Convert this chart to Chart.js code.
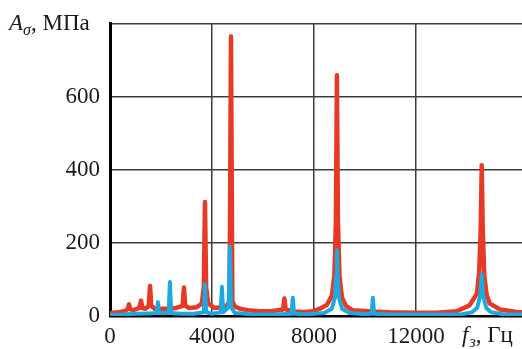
<!DOCTYPE html>
<html>
<head>
<meta charset="utf-8">
<script src="https://cdn.jsdelivr.net/npm/chart.js@4.4.1/dist/chart.umd.min.js"></script>
<style>
  html, body { margin: 0; padding: 0; background: #fff; }
  #wrap { width: 522px; height: 349px; }
</style>
</head>
<body>
<div id="wrap"><canvas id="spectrum"></canvas></div>
<script>
// frequency, Hz / amplitude, MPa
const redFreq = [0, 300, 600, 700, 745, 790, 900, 1000, 1150, 1215, 1270, 1400, 1520, 1570, 1620, 1750,
  2000, 2300, 2600, 2850, 2900, 2950, 3100, 3400, 3600, 3680, 3725, 3770, 3850, 4100, 4400, 4600, 4690,
  4745, 4800, 4900, 5100, 5400, 5800, 6300, 6790, 6840, 6890, 7200, 7600, 7960, 8230, 8500, 8700, 8800,
  8860, 8900, 8940, 9000, 9100, 9250, 9520, 10300, 11000, 12000, 12800, 13600, 14100, 14390, 14480,
  14540, 14580, 14620, 14680, 14780, 14900, 15300, 15950, 16160];
const redAmp = [8, 10, 14, 20, 32, 18, 16, 18, 22, 42, 22, 20, 28, 82, 28, 20,
  20, 20, 22, 28, 78, 28, 22, 24, 34, 80, 312, 80, 34, 22, 24, 30, 40,
  765, 40, 26, 20, 16, 14, 13, 18, 48, 18, 12, 11, 13, 20, 30, 55, 110,
  260, 659, 260, 110, 50, 28, 16, 12, 10, 9, 9, 13, 29, 61, 120,
  240, 413, 240, 110, 55, 34, 18, 11, 10];

const blueFreq = [0, 500, 1000, 1500, 1840, 1880, 1920, 2300, 2350, 2400, 2800, 3300, 3680, 3725, 3770,
  4000, 4340, 4390, 4440, 4650, 4700, 4750, 4900, 5500, 6500, 7120, 7170, 7220, 7800, 8400, 8700, 8820,
  8870, 8900, 8930, 8980, 9100, 9400, 10000, 10260, 10310, 10360, 11000, 13000, 13800, 14200, 14400,
  14520, 14580, 14640, 14760, 14950, 15400, 16160];
const blueAmp = [3, 4, 6, 7, 8, 38, 8, 8, 93, 8, 6, 6, 10, 87, 10,
  6, 10, 80, 10, 24, 190, 24, 8, 5, 4, 6, 50, 6, 5, 8, 20, 50,
  110, 180, 110, 50, 20, 8, 5, 6, 50, 6, 4, 4, 5, 10, 22,
  55, 114, 55, 22, 10, 5, 4];

const xTicks = [0, 4000, 8000, 12000];
const yTicks = [0, 200, 400, 600];

const toPoints = (xs, ys) => xs.map((x, i) => ({ x: x, y: ys[i] }));

const serif = 'Liberation Serif';

const axisTitles = {
  id: 'axisTitles',
  afterDraw(chart) {
    const ctx = chart.ctx;
    ctx.save();
    ctx.fillStyle = '#1a1a1a';
    ctx.textBaseline = 'alphabetic';
    ctx.textAlign = 'left';

    // A_σ, МПа
    let x = 9;
    ctx.font = 'italic 23px ' + serif;
    ctx.fillText('A', x, 30);
    x += ctx.measureText('A').width;
    ctx.font = 'italic 16px ' + serif;
    ctx.fillText('σ', x, 35);
    x += ctx.measureText('σ').width;
    ctx.font = '23px ' + serif;
    ctx.fillText(', МПа', x, 30);

    // f_з, Гц
    x = 462;
    ctx.font = 'italic 23px ' + serif;
    ctx.fillText('f', x, 342);
    x += ctx.measureText('f').width + 1;
    ctx.font = 'italic 16px ' + serif;
    ctx.fillText('з', x, 347);
    x += ctx.measureText('з').width;
    ctx.font = '23px ' + serif;
    ctx.fillText(', Гц', x, 342);
    ctx.restore();
  }
};

new Chart(document.getElementById('spectrum'), {
  type: 'scatter',
  data: {
    datasets: [
      {
        label: 'blue',
        data: toPoints(blueFreq, blueAmp),
        showLine: true,
        borderColor: '#1ea8e0',
        borderWidth: 4,
        borderJoinStyle: 'round',
        pointRadius: 0,
        tension: 0
      },
      {
        label: 'red',
        data: toPoints(redFreq, redAmp),
        showLine: true,
        borderColor: '#e63a26',
        borderWidth: 4.5,
        borderJoinStyle: 'round',
        pointRadius: 0,
        tension: 0
      }
    ]
  },
  options: {
    responsive: true,
    maintainAspectRatio: false,
    animation: false,
    layout: { padding: { top: 13, right: 0, left: 0, bottom: 0 } },
    scales: {
      x: {
        type: 'linear',
        min: 0,
        max: 16160,
        afterBuildTicks(scale) {
          scale.ticks = xTicks.map(v => ({ value: v }));
        },
        afterFit(scale) { scale.height = 33; },
        ticks: {
          color: '#1a1a1a',
          font: { family: serif, size: 23 },
          padding: 7,
          maxRotation: 0,
          callback: v => String(v)
        },
        grid: { color: '#3b3b47', lineWidth: 1.5, drawTicks: false },
        border: { color: '#000', width: 2.5 }
      },
      y: {
        min: 0,
        max: 800,
        afterBuildTicks(scale) {
          scale.ticks = yTicks.concat([800]).map(v => ({ value: v }));
        },
        afterFit(scale) { scale.width = 110; },
        ticks: {
          color: '#1a1a1a',
          font: { family: serif, size: 23 },
          padding: 10,
          callback: v => (v === 800 ? '' : String(v))
        },
        grid: { color: '#3b3b47', lineWidth: 1.5, drawTicks: false },
        border: { color: '#000', width: 3 }
      }
    },
    plugins: {
      legend: { display: false },
      tooltip: { enabled: false }
    }
  },
  plugins: [axisTitles]
});
</script>
</body>
</html>
